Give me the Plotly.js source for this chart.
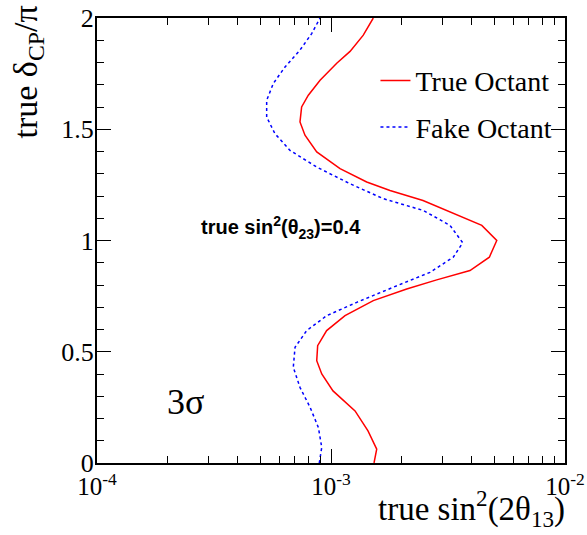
<!DOCTYPE html>
<html>
<head>
<meta charset="utf-8">
<script src="https://cdn.plot.ly/plotly-3.0.1.min.js"></script>
<style>html,body{margin:0;padding:0;background:#fff;}#chart{width:587px;height:535px;}</style>
</head>
<body>
<div id="chart"></div>
<script>
// True octant contour (x = sin^2(2θ13), y = δCP/π)
const trueX = [1.527e-3,1.568e-3,1.439e-3,1.267e-3,1.020e-3,9.13e-4,8.69e-4,8.77e-4,9.58e-4,1.148e-3,1.516e-3,2.106e-3,2.830e-3,3.926e-3,4.75e-3,5.11e-3,4.41e-3,3.225e-3,2.473e-3,1.787e-3,1.421e-3,1.093e-3,8.69e-4,7.74e-4,7.37e-4,7.49e-4,8.00e-4,8.98e-4,1.058e-3,1.206e-3,1.374e-3,1.516e-3];
const trueY = [0,0.062,0.144,0.234,0.324,0.40,0.46,0.527,0.595,0.662,0.73,0.782,0.823,0.865,0.925,1.0,1.068,1.130,1.18,1.225,1.263,1.323,1.398,1.473,1.533,1.60,1.653,1.72,1.797,1.85,1.923,2.0];
// Fake octant contour
const fakeX = [8.91e-4,9.13e-4,8.83e-4,8.14e-4,7.37e-4,6.90e-4,7.02e-4,7.87e-4,9.58e-4,1.288e-3,1.846e-3,2.649e-3,3.331e-3,3.654e-3,3.225e-3,2.480e-3,1.673e-3,1.206e-3,8.69e-4,6.68e-4,5.76e-4,5.31e-4,5.31e-4,5.67e-4,6.36e-4,7.37e-4,8.27e-4,8.98e-4];
const fakeY = [0,0.07,0.16,0.25,0.34,0.43,0.52,0.595,0.662,0.722,0.79,0.857,0.925,0.99,1.068,1.135,1.188,1.255,1.33,1.405,1.48,1.555,1.63,1.706,1.78,1.856,1.93,2.0];

const xTickVals = [1e-4,1e-3,1e-2];
const xTickText = ['10<sup>-4</sup>','10<sup>-3</sup>','10<sup>-2</sup>'];
const xMinorVals = [2e-4,3e-4,4e-4,5e-4,6e-4,7e-4,8e-4,9e-4,2e-3,3e-3,4e-3,5e-3,6e-3,7e-3,8e-3,9e-3];
const yTickVals = [0,0.5,1,1.5,2];
const yTickText = ['0','0.5','1','1.5','2'];

const serif = '"Liberation Serif", "Times New Roman", serif';

const traces = [
  {x: trueX, y: trueY, type:'scatter', mode:'lines', name:'True Octant', legendgroup:'a',
   line:{color:'#ff0000', width:1.5}},
  {x: fakeX, y: fakeY, type:'scatter', mode:'lines', name:'Fake Octant', legendgroup:'b',
   line:{color:'#0000ff', width:1.5, dash:'3px,3px'}}
];

const layout = {
  width:587, height:535,
  margin:{l:97, r:22, t:18, b:72},
  font:{family:serif, color:'#000', size:25},
  paper_bgcolor:'#fff', plot_bgcolor:'#fff',
  showlegend:true,
  legend:{x:0.595, y:0.915, xanchor:'left', yanchor:'top', bgcolor:'rgba(0,0,0,0)',
    font:{family:serif, size:28, color:'#000'}, tracegroupgap:7, itemwidth:30},
  xaxis:{type:'log', range:[-4,-2], tickvals:xTickVals, ticktext:xTickText,
    ticks:'inside', ticklen:14, tickwidth:1, tickcolor:'#000',
    showline:true, linewidth:2, linecolor:'#000', mirror:'allticks',
    showgrid:false, zeroline:false,
    tickfont:{family:serif, size:25, color:'#000'},
    minor:{tickvals:xMinorVals, ticks:'inside', ticklen:7, tickwidth:1, tickcolor:'#000', showgrid:false}},
  yaxis:{range:[0,2], tickvals:yTickVals, ticktext:yTickText,
    ticks:'inside', ticklen:14, tickwidth:1, tickcolor:'#000',
    showline:true, linewidth:2, linecolor:'#000', mirror:'allticks',
    showgrid:false, zeroline:false, ticklabelstandoff:-4,
    tickfont:{family:serif, size:26, color:'#000'},
    minor:{dtick:0.1, ticks:'inside', ticklen:7, tickwidth:1, tickcolor:'#000', showgrid:false}},
  annotations:[
    {text:'true sin<sup>2</sup>(2θ<sub>13</sub>)', xref:'paper', yref:'paper', x:1, y:0, xanchor:'right', yanchor:'bottom',
     xshift:2, yshift:-71, showarrow:false, font:{family:serif, size:33, color:'#000'}},
    {text:'true δ<sub>CP</sub>/π', xref:'paper', yref:'paper', x:0, y:1, xanchor:'center', yanchor:'top',
     xshift:-70, yshift:14, textangle:-90, showarrow:false, font:{family:serif, size:34, color:'#000'}},
    {text:'true sin<sup>2</sup>(θ<sub>23</sub>)=0.4', xref:'paper', yref:'paper', x:0.22, y:0.5, xanchor:'left', yanchor:'middle',
     xshift:-1, yshift:13, showarrow:false, font:{family:'"Liberation Sans", Arial, sans-serif', size:20, color:'#000', weight:'bold'}},
    {text:'3σ', xref:'paper', yref:'paper', x:0.15, y:0.13, xanchor:'left', yanchor:'middle',
     xshift:-2, yshift:3, showarrow:false, font:{family:serif, size:36, color:'#000'}}
  ]
};

Plotly.newPlot('chart', traces, layout, {displayModeBar:false, staticPlot:true});
</script>
</body>
</html>
